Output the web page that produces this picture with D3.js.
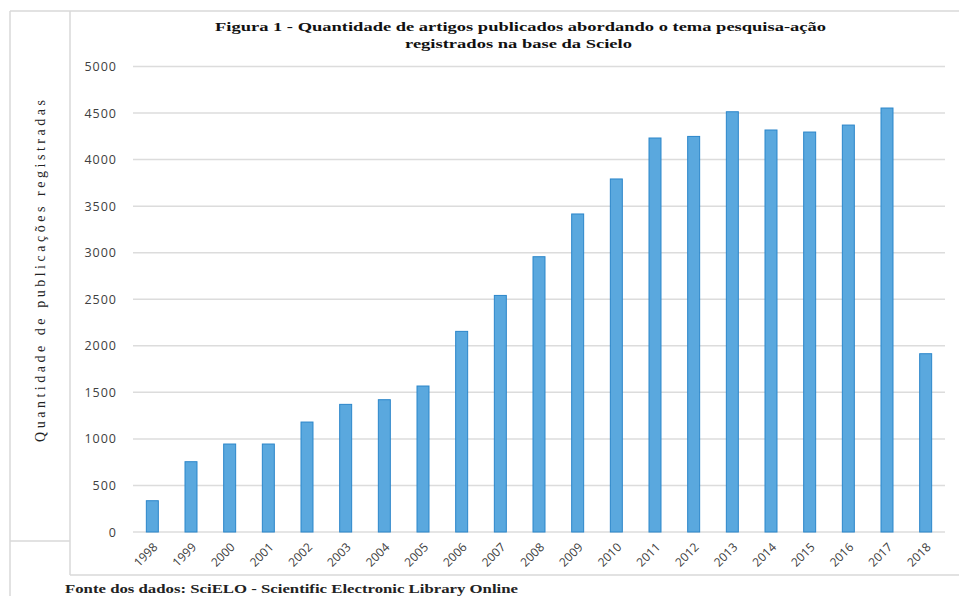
<!DOCTYPE html>
<html>
<head>
<meta charset="utf-8">
<script src="https://cdn.jsdelivr.net/npm/d3@7/dist/d3.min.js"></script>
<style>
  html, body { margin: 0; padding: 0; background: #fff; }
  svg { display: block; }
</style>
</head>
<body>
<svg id="chart" width="959" height="596"></svg>
<script>
const years = ["1998","1999","2000","2001","2002","2003","2004","2005","2006","2007","2008","2009","2010","2011","2012","2013","2014","2015","2016","2017","2018"];
const values = [336, 755, 945, 945, 1181, 1371, 1421, 1568, 2155, 2541, 2957, 3416, 3792, 4232, 4249, 4514, 4318, 4296, 4371, 4554, 1915];
const yTicks = [0, 500, 1000, 1500, 2000, 2500, 3000, 3500, 4000, 4500, 5000];
const titleLines = ["Figura 1 - Quantidade  de artigos publicados  abordando  o tema pesquisa-ação", "registrados na base da Scielo"];
const yLabel = "Quantidade  de  publicações  registradas";
const footer = "Fonte dos dados: SciELO - Scientific Electronic Library Online";

const svg = d3.select("#chart");
const frame = "#d9d9d9";

// frame lines
const lines = [
  [10, 11, 959, 11],
  [10, 11, 10, 596],
  [70, 11, 70, 575],
  [10, 541, 70, 541],
  [70, 575, 959, 575]
];
svg.selectAll("line.frame").data(lines).join("line")
  .attr("class", "frame")
  .attr("x1", d => d[0]).attr("y1", d => d[1])
  .attr("x2", d => d[2]).attr("y2", d => d[3])
  .attr("stroke", frame).attr("stroke-width", 1.5);

const x = d3.scaleBand().domain(years).range([133, 945]).paddingInner(0.69).paddingOuter(0.345);
const y = d3.scaleLinear().domain([0, 5000]).range([532, 66.5]);

// gridlines
svg.append("g").selectAll("line").data(yTicks).join("line")
  .attr("x1", 133).attr("x2", 945)
  .attr("y1", d => y(d)).attr("y2", d => y(d))
  .attr("stroke", "#dcdcdc").attr("stroke-width", 1.5);

// y tick labels
const yAxis = d3.axisLeft(y).tickValues(yTicks).tickFormat(d3.format("d")).tickSize(0).tickPadding(0);
const gy = svg.append("g").attr("transform", "translate(117,0)").call(yAxis);
gy.select(".domain").remove();
gy.selectAll("text")
  .attr("font-family", "'Open Sans', sans-serif")
  .attr("font-size", 12.5)
  .attr("letter-spacing", "1px")
  .attr("fill", "#404040");

// bars
svg.append("g").selectAll("rect").data(values).join("rect")
  .attr("x", (d, i) => x(years[i]))
  .attr("y", d => y(d))
  .attr("width", x.bandwidth())
  .attr("height", d => y(0) - y(d))
  .attr("fill", "#5aa8de")
  .attr("stroke", "#2b86ca")
  .attr("stroke-width", 1);

// x tick labels
const xAxis = d3.axisBottom(x).tickSize(0).tickPadding(0);
const gx = svg.append("g").attr("transform", "translate(0,532)").call(xAxis);
gx.select(".domain").remove();
gx.selectAll("text")
  .attr("font-family", "'Open Sans', sans-serif")
  .attr("font-size", 12)
  .attr("fill", "#404040")
  .attr("text-anchor", "end")
  .attr("dy", 0)
  .attr("y", 0)
  .attr("transform", "translate(6,16) rotate(-45)");

// title
svg.append("g").selectAll("text").data(titleLines).join("text")
  .attr("x", (d, i) => i === 0 ? 520.5 : 518.5)
  .attr("y", (d, i) => 31 + i * 17)
  .attr("text-anchor", "middle")
  .attr("font-family", "'Liberation Serif', 'Times New Roman', serif")
  .attr("font-weight", "bold")
  .attr("font-size", 13)
  .attr("textLength", (d, i) => i === 0 ? 611 : 227)
  .attr("lengthAdjust", "spacingAndGlyphs")
  .attr("fill", "#111")
  .text(d => d);

// y label
svg.append("text")
  .attr("transform", "translate(45,271) rotate(-90)")
  .attr("text-anchor", "middle")
  .attr("font-family", "'Liberation Serif', 'Times New Roman', serif")
  .attr("font-size", 14)
  .attr("textLength", 342)
  .attr("lengthAdjust", "spacing")
  .attr("fill", "#222")
  .text(yLabel);

// footer
svg.append("text")
  .attr("x", 65).attr("y", 593)
  .attr("font-family", "'Liberation Serif', 'Times New Roman', serif")
  .attr("font-weight", "bold")
  .attr("font-size", 13)
  .attr("textLength", 453)
  .attr("lengthAdjust", "spacingAndGlyphs")
  .attr("fill", "#222")
  .text(footer);
</script>
</body>
</html>
